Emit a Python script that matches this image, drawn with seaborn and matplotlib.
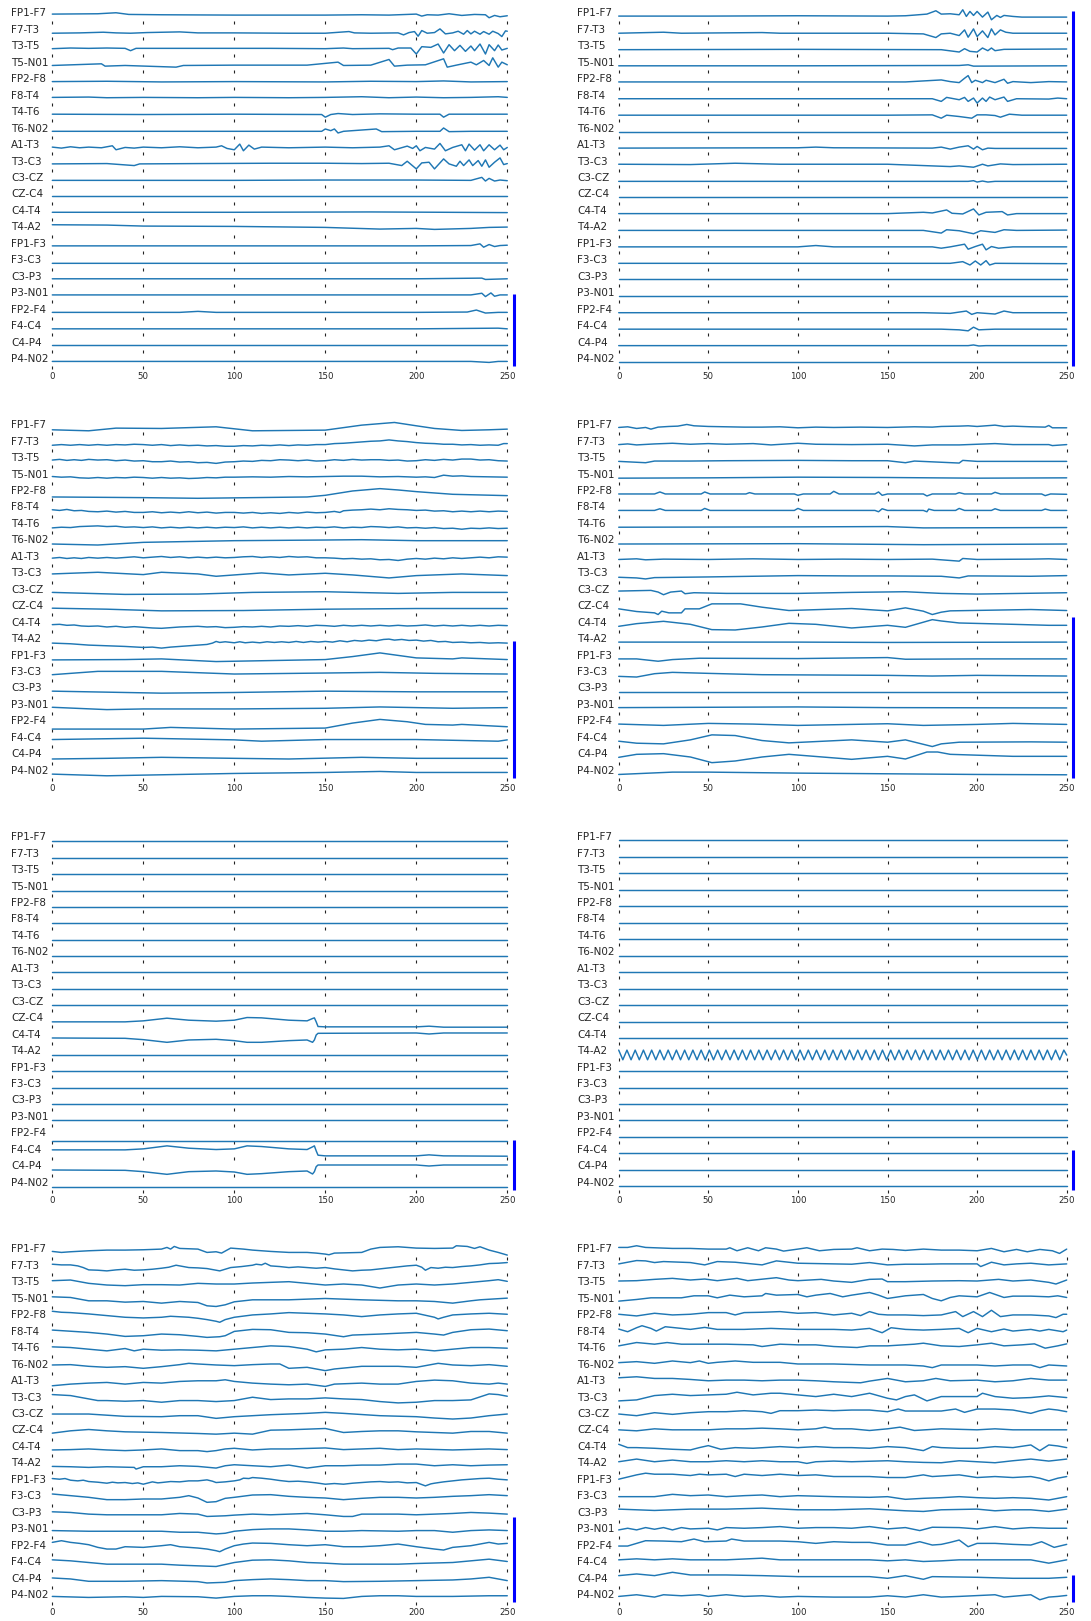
import seaborn as sns
import matplotlib.pyplot as plt

sns.set_style("white")
plt.rcParams["font.family"] = ["DejaVu Sans"]

# Bipolar montage channels, top to bottom
channels = ["FP1-F7", "F7-T3", "T3-T5", "T5-N01", "FP2-F8", "F8-T4", "T4-T6", "T6-N02",
            "A1-T3", "T3-C3", "C3-CZ", "CZ-C4", "C4-T4", "T4-A2", "FP1-F3", "F3-C3",
            "C3-P3", "P3-N01", "FP2-F4", "F4-C4", "C4-P4", "P4-N02"]
xticks = [0, 50, 100, 150, 200, 250]

# Each trace: (sample, amplitude) points
panel1 = [
    [(0, -2), (25, -1), (35, 2), (42, -3), (60, -4), (100, -5), (150, -5), (170, -4), (185, -5), (200, -2), (203, -8), (206, -4), (212, -5), (218, -1), (225, -6), (232, -3), (238, -4), (240, -13), (243, -6), (246, -10), (250, -7)],
    [(0, -10), (15, -9), (28, -7), (35, -9), (43, -10), (52, -8), (70, -6), (80, -9), (100, -9), (130, -10), (150, -10), (163, -5), (166, -9), (175, -10), (190, -9), (193, -15), (196, -8), (199, -5), (201, -19), (203, -2), (206, -10), (210, -8), (213, 3), (216, -12), (220, -9), (223, -4), (226, -13), (228, -2), (230, -12), (232, -4), (235, -13), (237, -5), (240, -13), (242, -4), (245, -11), (247, -20), (249, -3), (250, -4)],
    [(0, -7), (10, -5), (20, -6), (30, -5), (40, -6), (43, -13), (46, -6), (80, -6), (120, -6), (150, -7), (160, -5), (165, -7), (185, -6), (187, -10), (190, -5), (197, -5), (200, -23), (203, -1), (208, -3), (212, 7), (215, -20), (218, 5), (221, -13), (224, 3), (227, -15), (230, 1), (232, -13), (235, 7), (238, -23), (240, 5), (243, -13), (245, 4), (247, -11), (250, -6)],
    [(0, -8), (27, -3), (29, -10), (40, -8), (68, -13), (72, -8), (100, -7), (140, -7), (157, 2), (160, -8), (175, -7), (185, 10), (188, -10), (195, -7), (205, -6), (215, 12), (217, -13), (222, -7), (230, 2), (233, -6), (237, 7), (240, -8), (242, 15), (245, -13), (247, 2), (250, -6)],
    [(0, -7), (30, -6), (60, -8), (100, -7), (150, -8), (175, -6), (200, -7), (215, -5), (230, -8), (250, -7)],
    [(0, -5), (20, -4), (30, -6), (50, -5), (80, -6), (100, -5), (130, -6), (150, -5), (170, -3), (185, -6), (200, -4), (215, -6), (230, -5), (245, -3), (250, -5)],
    [(0, -6), (50, -7), (100, -6), (148, -7), (150, -15), (153, -7), (157, -4), (165, -7), (180, -5), (200, -6), (213, -6), (215, -15), (218, -6), (230, -6), (250, -6)],
    [(0, -8), (50, -8), (100, -8), (148, -8), (150, -1), (153, -6), (155, -1), (157, -13), (160, -8), (178, -1), (181, -9), (200, -8), (213, -8), (215, 2), (218, -9), (230, -8), (250, -8)],
    [(0, -6), (5, -9), (10, -5), (15, -8), (20, -6), (27, -8), (33, -2), (35, -14), (40, -7), (45, -9), (50, -6), (60, -8), (70, -5), (80, -8), (90, -6), (93, -2), (96, -10), (100, -14), (103, 3), (105, -17), (108, 0), (111, -12), (115, -6), (130, -8), (150, -6), (165, -8), (180, -6), (185, -2), (188, -14), (195, -3), (198, -10), (200, -2), (202, -17), (205, -7), (210, -12), (213, 5), (216, -17), (220, -7), (225, 1), (227, -17), (229, 3), (232, -15), (235, 1), (237, -17), (240, 1), (243, -14), (246, 0), (248, -14), (250, -7)],
    [(0, -7), (30, -6), (45, -12), (48, -7), (80, -6), (120, -5), (150, -5), (170, -6), (185, -5), (192, -12), (195, 1), (200, -22), (203, -4), (207, -2), (210, -22), (215, 8), (218, -7), (222, -14), (224, 1), (226, -12), (229, 5), (231, -12), (234, 3), (236, -14), (238, 5), (240, -17), (243, -2), (246, 11), (248, -9), (250, -6)],
    [(0, -7), (50, -7), (100, -7), (150, -6), (200, -6), (230, -7), (236, 2), (238, -9), (240, -1), (243, -9), (246, -6), (250, -8)],
    [(0, -5), (100, -5), (180, -5), (250, -5)],
    [(0, -4), (100, -4), (175, -3), (215, -4), (250, -5)],
    [(0, 8), (30, 7), (50, 4), (100, 3), (150, 0), (180, -5), (200, -3), (210, -6), (230, -3), (240, 0), (250, 1)],
    [(0, -6), (100, -6), (200, -6), (230, -5), (235, 0), (237, -10), (240, -2), (243, -8), (246, -5), (250, -4)],
    [(0, -9), (100, -9), (200, -8), (250, -8)],
    [(0, -6), (100, -6), (200, -6), (236, -4), (238, -8), (250, -6)],
    [(0, -5), (100, -5), (200, -5), (230, -5), (236, 0), (238, -10), (241, 1), (243, -9), (246, -5), (250, -5)],
    [(0, -8), (70, -8), (80, -5), (90, -8), (150, -8), (200, -8), (228, -7), (233, -1), (238, -10), (245, -8), (250, -8)],
    [(0, -8), (200, -8), (245, -6), (250, -8)],
    [(0, -7), (250, -7)],
    [(0, -7), (230, -7), (240, -10), (245, -7), (250, -7)],
]

panel2 = [
    [(0, -8), (50, -8), (100, -7), (150, -8), (160, -7), (165, -5), (172, -2), (177, 8), (180, -2), (185, -1), (190, -4), (192, 11), (194, -9), (196, 6), (198, -6), (200, 6), (203, -11), (206, 4), (208, -19), (211, -6), (213, -12), (215, -6), (220, -9), (225, -11), (250, -11)],
    [(0, -10), (25, -7), (35, -10), (80, -8), (90, -10), (150, -10), (170, -12), (177, -23), (180, -12), (185, -10), (190, -17), (193, 0), (195, -22), (198, 3), (200, -20), (203, -3), (206, -23), (208, 3), (210, -15), (213, 0), (216, -7), (220, -10), (250, -10)],
    [(0, -10), (100, -9), (180, -10), (190, -17), (193, -7), (196, -15), (200, -17), (203, -5), (206, -13), (208, -5), (210, -13), (215, -9), (250, -8)],
    [(0, -9), (100, -9), (190, -8), (195, -6), (198, -10), (250, -9)],
    [(0, -8), (100, -8), (160, -8), (170, -5), (180, -2), (185, -7), (190, -10), (193, 3), (195, 11), (197, -10), (199, -3), (203, -10), (205, -3), (210, -10), (215, 0), (217, -12), (220, -7), (230, -10), (240, -7), (250, -8)],
    [(0, -9), (150, -9), (175, -9), (180, -17), (183, -5), (190, -12), (193, -5), (195, -17), (198, -7), (200, -22), (203, -7), (205, -17), (207, -4), (210, -12), (215, -4), (217, -17), (222, -9), (240, -10), (245, -7), (250, -9)],
    [(0, -9), (150, -9), (175, -8), (180, -18), (183, -9), (190, -13), (197, -18), (200, -8), (205, -8), (210, -10), (213, -15), (218, -6), (225, -9), (250, -9)],
    [(0, -9), (250, -9)],
    [(0, -9), (100, -8), (110, -6), (120, -8), (175, -9), (180, -6), (185, -12), (190, -6), (195, -2), (198, -12), (200, -4), (203, -14), (206, -9), (210, -10), (250, -10)],
    [(0, -8), (40, -9), (65, -5), (90, -8), (150, -8), (170, -12), (185, -15), (190, -13), (198, -17), (203, -8), (206, -13), (213, -7), (220, -9), (250, -8)],
    [(0, -10), (195, -10), (198, -8), (200, -12), (203, -9), (206, -12), (210, -10), (250, -10)],
    [(0, -9), (250, -9)],
    [(0, -8), (150, -8), (170, -4), (175, -6), (183, 3), (186, -7), (192, -9), (198, 6), (201, -12), (205, -4), (214, -2), (217, -12), (222, -8), (250, -8)],
    [(0, -9), (170, -9), (180, -17), (183, -7), (190, -10), (198, -19), (202, -10), (210, -15), (215, -7), (222, -9), (250, -8)],
    [(0, -9), (100, -9), (110, -5), (120, -9), (175, -9), (180, -13), (185, -9), (193, -1), (195, -16), (199, -8), (203, -1), (205, -18), (208, -8), (212, -13), (220, -9), (250, -9)],
    [(0, -9), (185, -9), (192, -4), (196, -14), (199, -2), (202, -14), (205, -1), (207, -14), (210, -9), (250, -10)],
    [(0, -8), (250, -8)],
    [(0, -9), (250, -9)],
    [(0, -9), (170, -9), (185, -11), (194, -4), (197, -14), (200, -9), (210, -13), (215, -4), (220, -9), (250, -9)],
    [(0, -9), (180, -9), (190, -11), (195, -14), (198, -3), (201, -11), (205, -10), (210, -9), (250, -9)],
    [(0, -9), (195, -9), (198, -7), (201, -10), (205, -9), (250, -9)],
    [(0, -9), (250, -9)],
]

panel3 = [
    [(0, -14), (20, -17), (35, -9), (60, -10), (90, -5), (110, -17), (150, -15), (170, 0), (188, 8), (200, -2), (210, -10), (225, -16), (240, -14), (250, -12)],
    [(0, -11), (5, -9), (10, -11), (15, -9), (20, -11), (25, -9), (30, -11), (35, -9), (40, -10), (45, -8), (50, -9), (55, -11), (60, -9), (65, -12), (70, -10), (75, -12), (80, -11), (85, -13), (90, -12), (95, -14), (100, -14), (105, -12), (110, -13), (115, -11), (120, -12), (125, -10), (130, -12), (135, -10), (140, -11), (145, -9), (150, -9), (155, -6), (160, -5), (165, -3), (170, -1), (175, 1), (180, 2), (185, 5), (190, 2), (195, 0), (200, -3), (205, -5), (210, -6), (215, -8), (220, -8), (225, -10), (230, -9), (235, -11), (240, -10), (245, -11), (248, -6), (250, -6)],
    [(0, -6), (4, -4), (8, -7), (12, -5), (16, -7), (20, -4), (25, -6), (30, -5), (35, -8), (40, -6), (45, -9), (50, -8), (55, -11), (60, -11), (65, -9), (70, -12), (75, -11), (80, -14), (85, -13), (90, -16), (95, -12), (100, -11), (105, -9), (110, -10), (115, -7), (120, -8), (125, -5), (130, -6), (135, -8), (140, -6), (145, -9), (150, -8), (155, -5), (160, -7), (165, -4), (170, -6), (175, -5), (180, -5), (185, -7), (190, -6), (195, -9), (200, -8), (205, -5), (210, -7), (215, -4), (220, -6), (225, -3), (230, -3), (235, -6), (240, -5), (245, -8), (250, -9)],
    [(0, -6), (5, -8), (10, -7), (15, -10), (20, -11), (25, -9), (30, -11), (35, -9), (40, -10), (45, -8), (50, -9), (55, -11), (60, -9), (65, -11), (70, -10), (75, -12), (80, -11), (85, -9), (90, -10), (95, -8), (100, -8), (110, -7), (120, -8), (130, -6), (140, -7), (150, -6), (160, -5), (170, -5), (180, -7), (190, -6), (200, -8), (205, -7), (210, -9), (215, -2), (220, -5), (225, -4), (230, -6), (240, -7), (250, -8)],
    [(0, -18), (50, -20), (80, -22), (110, -20), (140, -18), (150, -13), (165, 0), (180, 7), (190, 3), (200, -2), (220, -10), (250, -14)],
    [(0, -7), (4, -9), (8, -6), (12, -10), (16, -9), (20, -12), (25, -13), (30, -11), (35, -14), (40, -12), (45, -15), (50, -15), (55, -13), (60, -16), (65, -14), (70, -16), (75, -13), (80, -16), (85, -14), (90, -17), (95, -15), (100, -15), (105, -17), (110, -15), (115, -18), (120, -16), (125, -18), (130, -15), (135, -17), (140, -14), (145, -16), (150, -15), (155, -12), (158, -15), (160, -10), (165, -8), (170, -7), (175, -5), (180, -7), (185, -4), (190, -6), (195, -7), (200, -9), (205, -8), (210, -11), (215, -10), (220, -13), (225, -11), (230, -13), (235, -11), (240, -13), (245, -11), (250, -12)],
    [(0, -12), (5, -10), (10, -11), (15, -8), (20, -7), (25, -6), (30, -8), (35, -7), (40, -10), (45, -9), (50, -11), (55, -9), (60, -12), (65, -10), (70, -12), (75, -10), (80, -12), (85, -10), (90, -12), (95, -10), (100, -11), (105, -9), (110, -12), (115, -10), (120, -12), (125, -10), (130, -12), (135, -10), (140, -12), (145, -10), (150, -11), (155, -9), (160, -12), (165, -10), (170, -11), (175, -8), (180, -9), (185, -11), (190, -9), (195, -12), (200, -11), (205, -13), (210, -11), (215, -14), (220, -13), (225, -16), (230, -13), (235, -14), (240, -12), (245, -14), (250, -13)],
    [(0, -11), (25, -14), (50, -6), (100, -1), (150, 1), (170, 2), (200, -1), (250, -1)],
    [(0, -4), (4, -2), (8, -5), (12, -3), (16, -5), (20, -2), (25, -4), (30, -2), (35, -4), (40, -2), (45, 0), (50, -3), (55, -1), (60, 1), (65, -2), (70, 0), (75, -3), (80, -1), (85, -3), (90, -1), (95, -3), (100, -2), (105, 0), (110, 1), (115, -2), (120, 0), (125, -2), (130, 1), (135, -1), (140, 0), (145, -3), (150, -3), (155, -4), (160, -6), (165, -5), (170, -7), (175, -6), (180, -9), (185, -8), (190, -11), (195, -7), (200, -5), (205, -7), (210, -4), (215, -6), (220, -3), (225, -5), (230, -3), (235, -1), (240, -3), (245, 0), (250, -1)],
    [(0, -2), (25, 3), (50, -4), (60, 3), (80, -2), (90, -9), (100, -5), (115, 1), (130, -5), (150, 0), (165, -5), (185, -14), (200, -7), (225, -2), (250, -7)],
    [(0, -8), (40, -14), (80, -13), (110, -8), (150, -6), (190, -11), (220, -8), (250, -8)],
    [(0, -6), (30, -9), (60, -14), (105, -13), (150, -9), (200, -7), (250, -7)],
    [(0, -6), (4, -5), (8, -8), (12, -7), (16, -10), (20, -11), (25, -10), (30, -13), (35, -11), (40, -14), (45, -12), (50, -14), (55, -16), (60, -17), (65, -15), (70, -13), (75, -12), (80, -11), (85, -13), (90, -12), (95, -15), (100, -14), (105, -12), (110, -13), (115, -11), (120, -13), (125, -10), (130, -11), (135, -9), (140, -11), (145, -8), (150, -9), (155, -11), (160, -8), (165, -10), (170, -8), (175, -10), (180, -8), (185, -10), (190, -8), (195, -10), (200, -9), (205, -7), (210, -10), (215, -8), (220, -10), (225, -8), (230, -10), (235, -8), (240, -10), (245, -8), (250, -9)],
    [(0, -12), (10, -14), (20, -18), (30, -20), (40, -22), (50, -25), (55, -24), (60, -27), (65, -24), (70, -22), (75, -20), (80, -18), (85, -16), (88, -12), (90, -7), (92, -10), (95, -8), (100, -11), (103, -8), (106, -11), (110, -9), (114, -11), (118, -8), (122, -10), (126, -8), (130, -10), (134, -7), (138, -10), (142, -7), (146, -9), (150, -7), (154, -9), (158, -5), (162, -8), (166, -4), (170, -6), (174, -3), (178, -5), (182, -1), (185, 0), (188, -3), (192, -1), (196, -4), (200, -3), (204, -6), (208, -4), (212, -8), (216, -7), (220, -10), (225, -9), (230, -11), (235, -10), (240, -12), (245, -11), (250, -12)],
    [(0, -13), (40, -12), (60, -10), (90, -18), (120, -15), (150, -12), (165, -3), (180, 8), (200, -7), (220, -10), (225, -7), (250, -12)],
    [(0, -8), (25, 2), (60, 2), (100, -6), (150, -3), (180, -1), (210, -4), (250, -6)],
    [(0, -8), (60, -14), (100, -12), (150, -8), (200, -10), (250, -10)],
    [(0, -7), (30, -14), (50, -12), (100, -12), (150, -10), (180, -6), (220, -10), (250, -8)],
    [(0, -23), (50, -23), (65, -18), (100, -23), (150, -20), (165, -5), (180, 6), (195, -1), (205, -9), (220, -11), (225, -9), (250, -16)],
    [(0, -5), (50, -1), (100, -6), (115, -10), (150, -5), (200, -5), (245, -10), (250, -6)],
    [(0, -14), (30, -12), (60, -9), (100, -12), (130, -14), (170, -9), (200, -12), (250, -12)],
    [(0, -10), (30, -15), (60, -12), (100, -8), (150, -5), (180, -2), (200, -5), (250, -5)],
]

panel4 = [
    [(0, -7), (5, -5), (10, -10), (15, -7), (18, -12), (22, -6), (28, -4), (33, -3), (38, 2), (42, -2), (50, -4), (60, -5), (70, -6), (80, -6), (90, -5), (100, -8), (110, -6), (120, -7), (135, -6), (150, -7), (165, -5), (175, -6), (180, -4), (190, -3), (195, -2), (200, -4), (210, 0), (215, -4), (220, -3), (230, -5), (238, -6), (240, -1), (242, -8), (250, -8)],
    [(0, -9), (5, -7), (10, -10), (20, -7), (30, -5), (40, -8), (50, -6), (60, -8), (75, -6), (85, -10), (100, -5), (110, -8), (130, -9), (150, -8), (165, -13), (175, -10), (190, -10), (210, -6), (220, -9), (240, -9), (242, -12), (250, -9)],
    [(0, -10), (15, -14), (20, -9), (40, -9), (60, -8), (100, -7), (130, -8), (150, -8), (160, -14), (165, -9), (190, -15), (192, -7), (200, -10), (250, -10)],
    [(0, -11), (50, -10), (100, -8), (150, -9), (200, -11), (250, -10)],
    [(0, -9), (20, -9), (23, -3), (26, -9), (46, -9), (48, -3), (51, -9), (71, -9), (73, -5), (76, -9), (98, -9), (100, -13), (103, -9), (118, -9), (120, -1), (123, -9), (143, -9), (145, -3), (147, -13), (150, -9), (170, -9), (172, -15), (175, -9), (188, -9), (190, -5), (193, -9), (208, -9), (210, -4), (213, -9), (236, -9), (238, -14), (241, -9), (250, -10)],
    [(0, -9), (20, -9), (23, -4), (26, -9), (46, -9), (48, -3), (51, -9), (98, -9), (100, -3), (103, -9), (143, -9), (145, -13), (147, -4), (150, -9), (170, -9), (172, -13), (173, -5), (176, -9), (188, -9), (190, -3), (193, -9), (208, -9), (210, -4), (213, -9), (236, -9), (238, -5), (241, -9), (250, -9)],
    [(0, -10), (100, -9), (150, -8), (170, -12), (250, -11)],
    [(0, -11), (100, -10), (170, -13), (250, -11)],
    [(0, -8), (10, -6), (15, -9), (25, -7), (50, -8), (75, -6), (100, -8), (125, -7), (150, -8), (175, -7), (190, -13), (192, -5), (200, -8), (230, -7), (240, -6), (250, -8)],
    [(0, -12), (10, -14), (15, -17), (20, -13), (50, -11), (75, -9), (100, -7), (130, -8), (150, -8), (180, -9), (190, -14), (195, -8), (200, -8), (230, -9), (250, -7)],
    [(0, -4), (18, -2), (22, -7), (25, -15), (29, -7), (35, -4), (37, -12), (42, -9), (60, -11), (100, -11), (130, -8), (160, -6), (180, -11), (200, -13), (250, -9)],
    [(0, -8), (10, -16), (20, -20), (22, -25), (24, -15), (28, -20), (35, -20), (37, -8), (45, -8), (52, 7), (68, 7), (80, -3), (95, -13), (130, -7), (150, -14), (160, -5), (170, -15), (175, -25), (180, -18), (185, -14), (230, -10), (250, -13)],
    [(0, -11), (10, -3), (25, 4), (40, -5), (52, -21), (65, -22), (80, -13), (95, -2), (110, -5), (130, -16), (150, -8), (160, -14), (175, 9), (180, 5), (190, -1), (220, -5), (240, -8), (250, -8)],
    [(0, -9), (100, -9), (150, -10), (250, -9)],
    [(0, -10), (10, -10), (22, -17), (30, -12), (45, -8), (100, -9), (150, -6), (160, -11), (200, -10), (250, -10)],
    [(0, -13), (10, -15), (20, -5), (30, -1), (50, -4), (80, -8), (150, -10), (175, -12), (200, -10), (250, -12)],
    [(0, -10), (100, -10), (200, -10), (250, -10)],
    [(0, -8), (100, -6), (150, -8), (250, -9)],
    [(0, -8), (25, -12), (50, -6), (75, -8), (100, -12), (150, -7), (170, -12), (200, -9), (220, -6), (250, -9)],
    [(0, -10), (10, -16), (25, -18), (40, -6), (52, 9), (65, 7), (80, -8), (95, -15), (130, -6), (150, -13), (160, -6), (175, -26), (180, -18), (190, -13), (230, -12), (250, -13)],
    [(0, -9), (10, 0), (25, 2), (40, -8), (52, -25), (65, -20), (80, -8), (95, 0), (130, -15), (150, -6), (160, -14), (172, 7), (178, 7), (185, 0), (220, -6), (250, -6)],
    [(0, -11), (30, -4), (50, -4), (100, -7), (150, -9), (200, -11), (250, -12)],
]

panel5 = [
    [(0, -12), (250, -12)],
    [(0, -12), (250, -12)],
    [(0, -12), (250, -12)],
    [(0, -12), (250, -12)],
    [(0, -12), (250, -12)],
    [(0, -12), (250, -12)],
    [(0, -11), (250, -11)],
    [(0, -12), (250, -12)],
    [(0, -11), (250, -11)],
    [(0, -12), (250, -12)],
    [(0, -11), (250, -11)],
    [(0, -11), (40, -11), (50, -8), (63, 0), (75, -6), (90, -9), (100, -6), (107, 2), (115, 1), (130, -6), (140, -8), (143, -1), (144, 1), (145, -11), (146, -25), (150, -26), (200, -26), (207, -24), (215, -27), (250, -27)],
    [(0, -10), (40, -11), (50, -15), (63, -23), (75, -16), (90, -14), (100, -18), (107, -23), (115, -23), (130, -18), (140, -16), (143, -23), (144, -16), (145, -1), (146, 4), (200, 5), (207, 2), (215, 5), (250, 5)],
    [(0, -11), (250, -11)],
    [(0, -11), (250, -11)],
    [(0, -11), (250, -11)],
    [(0, -12), (250, -12)],
    [(0, -10), (250, -10)],
    [(0, -23), (250, -23)],
    [(0, 0), (40, 0), (50, 3), (63, 12), (75, 5), (90, 1), (100, 3), (107, 12), (115, 10), (130, 3), (140, 1), (143, 9), (144, 12), (145, -3), (146, -16), (150, -18), (200, -18), (207, -15), (215, -18), (250, -19)],
    [(0, -11), (40, -12), (50, -16), (63, -24), (75, -16), (90, -14), (100, -17), (107, -24), (115, -22), (130, -16), (140, -14), (143, -23), (144, -16), (145, -1), (146, 4), (200, 4), (207, 1), (215, 4), (250, 4)],
    [(0, -12), (250, -12)],
]

panel6 = [
    [(0, -10), (250, -10)],
    [(0, -10), (250, -10)],
    [(0, -10), (250, -10)],
    [(0, -11), (250, -11)],
    [(0, -10), (250, -10)],
    [(0, -10), (250, -10)],
    [(0, -10), (250, -10)],
    [(0, -10), (250, -10)],
    [(0, -11), (250, -11)],
    [(0, -11), (250, -11)],
    [(0, -10), (250, -10)],
    [(0, -10), (250, -10)],
    [(0, -10), (250, -10)],
    [(0, 3), (2.3, -26), (4.6, 3), (6.9, -26), (9.2, 3), (11.5, -26), (13.8, 3), (16.1, -26), (18.4, 3), (20.7, -26), (23, 3), (25.3, -26), (27.6, 3), (29.9, -26), (32.2, 3), (34.5, -26), (36.8, 3), (39.1, -26), (41.4, 3), (43.7, -26), (46, 3), (48.3, -26), (50.6, 3), (52.9, -26), (55.2, 3), (57.5, -26), (59.8, 3), (62.1, -26), (64.4, 3), (66.7, -26), (69, 3), (71.3, -26), (73.6, 3), (75.9, -26), (78.2, 3), (80.5, -26), (82.8, 3), (85.1, -26), (87.4, 3), (89.7, -26), (92, 3), (94.3, -26), (96.6, 3), (98.9, -26), (101.2, 3), (103.5, -26), (105.8, 3), (108.1, -26), (110.4, 3), (112.7, -26), (115, 3), (117.3, -26), (119.6, 3), (121.9, -26), (124.2, 3), (126.5, -26), (128.8, 3), (131.1, -26), (133.4, 3), (135.7, -26), (138, 3), (140.3, -26), (142.6, 3), (144.9, -26), (147.2, 3), (149.5, -26), (151.8, 3), (154.1, -26), (156.4, 3), (158.7, -26), (161, 3), (163.3, -26), (165.6, 3), (167.9, -26), (170.2, 3), (172.5, -26), (174.8, 3), (177.1, -26), (179.4, 3), (181.7, -26), (184, 3), (186.3, -26), (188.6, 3), (190.9, -26), (193.2, 3), (195.5, -26), (197.8, 3), (200.1, -26), (202.4, 3), (204.7, -26), (207, 3), (209.3, -26), (211.6, 3), (213.9, -26), (216.2, 3), (218.5, -26), (220.8, 3), (223.1, -26), (225.4, 3), (227.7, -26), (230, 3), (232.3, -26), (234.6, 3), (236.9, -26), (239.2, 3), (241.5, -26), (243.8, 3), (246.1, -26), (248.4, 3), (250, -12)],
    [(0, -10), (250, -10)],
    [(0, -11), (250, -11)],
    [(0, -11), (250, -11)],
    [(0, -10), (250, -10)],
    [(0, -11), (250, -11)],
    [(0, -10), (250, -10)],
    [(0, -10), (250, -10)],
    [(0, -10), (250, -10)],
]

panel7 = [
    [(0, -6), (5, -9), (10, -7), (20, -4), (30, -2), (40, -2), (50, -1), (60, 1), (63, 6), (65, 1), (67, 9), (70, 3), (80, 1), (85, -9), (90, -7), (93, -11), (98, 4), (105, 1), (110, -2), (120, -6), (130, -9), (140, -9), (145, -11), (150, -14), (152, -16), (155, -11), (170, -9), (175, 1), (180, 6), (190, 8), (200, 4), (210, 3), (220, 4), (222, 11), (228, 9), (232, 3), (235, 8), (240, -2), (245, -9), (250, -17)],
    [(0, 5), (5, 3), (10, 3), (14, 0), (17, -5), (20, -12), (25, -13), (30, -15), (35, -12), (40, -10), (45, -13), (50, -12), (55, -10), (60, -7), (64, -4), (68, 2), (72, -2), (75, -5), (80, -6), (85, -8), (88, -11), (92, -15), (95, -10), (98, -5), (104, -2), (110, 2), (112, 5), (115, 3), (117, 8), (120, 0), (125, -2), (130, -5), (135, -3), (140, -5), (145, -7), (150, -5), (155, -9), (160, -12), (165, -15), (170, -13), (175, -12), (180, -9), (185, -6), (190, -3), (195, 0), (200, 2), (203, -4), (205, -13), (208, -5), (212, -7), (216, -4), (220, -5), (225, -2), (230, 0), (235, 3), (240, 7), (245, 8), (250, 10)],
    [(0, 5), (10, 7), (20, -3), (30, -8), (40, -10), (50, -7), (60, -7), (70, -8), (80, -3), (90, -5), (100, -5), (110, -2), (120, 0), (130, 2), (140, -3), (150, -8), (160, -5), (170, -8), (180, -17), (190, -8), (200, -5), (210, -8), (220, -5), (230, 0), (240, 5), (245, 8), (250, 3)],
    [(0, 6), (10, 4), (15, -1), (20, -6), (30, -6), (40, -10), (50, -8), (60, -13), (70, -8), (80, -11), (85, -21), (90, -23), (95, -18), (100, -9), (110, -3), (130, -3), (150, 1), (170, -3), (190, -6), (200, -6), (210, -8), (220, -13), (230, -6), (235, -3), (250, 2)],
    [(0, 12), (5, 9), (10, 8), (20, 4), (30, -1), (40, -6), (50, -8), (60, -6), (65, -3), (75, -6), (80, -9), (85, -13), (90, -18), (92, -21), (95, -13), (100, -6), (110, 1), (120, 4), (130, 8), (150, 4), (160, 1), (170, -4), (180, 1), (190, 4), (200, 6), (210, -6), (212, -11), (215, -6), (220, 1), (230, 4), (240, 6), (250, 3)],
    [(0, 5), (20, -2), (30, -7), (40, -14), (50, -12), (60, -7), (70, -9), (80, -14), (85, -17), (92, -15), (95, -12), (100, 1), (110, 7), (120, 6), (130, -2), (140, -3), (150, -7), (160, -15), (165, -10), (180, -7), (200, -2), (210, -7), (215, -10), (220, -2), (230, 6), (240, 8), (250, 3)],
    [(0, 4), (10, 2), (20, -3), (30, -8), (40, -1), (45, -8), (50, -3), (60, -6), (70, -5), (80, -6), (90, -8), (100, -3), (110, 2), (120, 7), (130, 5), (140, -3), (145, -11), (150, -5), (160, -3), (170, 2), (180, -3), (190, -5), (200, -3), (210, -8), (220, -3), (230, 2), (240, 2), (250, 0)],
    [(0, -1), (10, 0), (20, -5), (30, -8), (40, -6), (50, -11), (60, -6), (70, 0), (75, 4), (80, 2), (90, -1), (100, -3), (110, 0), (120, 2), (125, 2), (130, -11), (140, -8), (150, -18), (155, -13), (170, -5), (190, -5), (200, -8), (212, 4), (220, -1), (230, -3), (240, 0), (250, -5)],
    [(0, -14), (10, -9), (20, -6), (30, -4), (40, -9), (50, -4), (60, -6), (70, -1), (80, 1), (90, 1), (95, 4), (100, -1), (110, -6), (120, -9), (130, -11), (140, -9), (150, -16), (155, -9), (170, -6), (180, -9), (190, -9), (200, -1), (210, 3), (220, 1), (230, -6), (240, -9), (245, -6), (250, -9)],
    [(0, 9), (10, 6), (20, -4), (25, -9), (30, -9), (40, -11), (50, -9), (60, -14), (70, -9), (80, -9), (90, -12), (100, -9), (110, 1), (120, -6), (130, -4), (140, -4), (150, -1), (160, -4), (170, -6), (180, -12), (190, -16), (200, -14), (210, -9), (220, -9), (230, -7), (240, 11), (245, 9), (250, 4)],
    [(0, 0), (20, 0), (40, -7), (60, -8), (70, -5), (80, -5), (90, -13), (100, -8), (120, -2), (140, 2), (150, 5), (160, 2), (180, -5), (200, -8), (210, -12), (220, -15), (230, -12), (240, -5), (250, 0)],
    [(0, -8), (10, -1), (20, 3), (30, -1), (40, -4), (60, -6), (80, -9), (90, -11), (100, -8), (110, -11), (120, 1), (130, 2), (140, 4), (150, 6), (160, -6), (170, -3), (180, -1), (190, -1), (200, -4), (210, -6), (220, -8), (230, -3), (240, -3), (250, -8)],
    [(0, -9), (10, -8), (20, -6), (30, -9), (40, -11), (50, -9), (60, -6), (70, -11), (80, -11), (85, -14), (90, -11), (95, -6), (100, -4), (110, -9), (120, -6), (130, -6), (150, -3), (160, -8), (170, -6), (180, -4), (190, -8), (200, -6), (220, -9), (240, -6), (250, -8)],
    [(0, -9), (10, -10), (20, -12), (30, -10), (45, -12), (46, -17), (50, -10), (60, -10), (70, -7), (80, -9), (90, -14), (95, -7), (100, -4), (110, -7), (120, -10), (130, -5), (140, -14), (150, -7), (160, -7), (170, -5), (180, -5), (190, -2), (200, -2), (210, -7), (220, -4), (230, -7), (240, -5), (250, -4)],
    [(0, 4), (4, 2), (7, 4), (10, -1), (14, -3), (17, -1), (20, -5), (25, -7), (30, -10), (33, -7), (36, -9), (40, -8), (44, -11), (47, -9), (50, -13), (55, -6), (58, -9), (60, -8), (65, -5), (70, -6), (75, -3), (80, -3), (85, 0), (88, -4), (90, -8), (95, -6), (100, -3), (103, 0), (105, 5), (108, 4), (110, 7), (115, 5), (120, 2), (125, -2), (130, -5), (135, -4), (140, -6), (145, -9), (150, -13), (155, -11), (160, -13), (165, -10), (170, -8), (175, -6), (180, -5), (185, -7), (190, -6), (195, -9), (200, -8), (203, -14), (205, -18), (208, -12), (210, -10), (215, -6), (220, -3), (225, 0), (230, 2), (235, 4), (240, 5), (245, 2), (250, 0)],
    [(0, 7), (10, 2), (20, -3), (30, -10), (40, -10), (50, -8), (60, -8), (70, -3), (75, 2), (80, -5), (85, -18), (90, -16), (95, -6), (100, -3), (110, 4), (120, 5), (130, 0), (140, -3), (150, -5), (160, -10), (170, -6), (180, -3), (190, -3), (200, -5), (210, -3), (220, 0), (230, 2), (240, 5), (250, 2)],
    [(0, 3), (10, 1), (20, -4), (30, -6), (50, -6), (60, -6), (70, -2), (80, -4), (85, -11), (95, -9), (100, -7), (110, -4), (120, -6), (130, -4), (140, -2), (150, -6), (160, -11), (165, -11), (170, -4), (190, -4), (200, -6), (220, -2), (230, 1), (240, -1), (250, -4)],
    [(0, -4), (20, -6), (40, -6), (60, -6), (70, -9), (80, -9), (90, -14), (95, -12), (100, -6), (110, -1), (120, 1), (130, 1), (140, -2), (150, -6), (160, -6), (170, -4), (190, -6), (200, -4), (210, -4), (220, -9), (230, -4), (240, -2), (250, -4)],
    [(0, 10), (5, 15), (10, 10), (15, 7), (20, 3), (25, -5), (30, -10), (35, -10), (40, -3), (50, -5), (60, 0), (65, 3), (70, -3), (80, -7), (85, -10), (90, -15), (92, -18), (95, -10), (100, 0), (105, 5), (110, 8), (120, 7), (130, 3), (140, 0), (150, 3), (160, -3), (170, -3), (180, 0), (190, 5), (200, -3), (210, -10), (215, -13), (220, -5), (230, 0), (240, 10), (245, 5), (250, 7)],
    [(0, 7), (10, 4), (20, -1), (30, -6), (50, -6), (60, -6), (70, -9), (80, -11), (90, -13), (100, -1), (110, 6), (120, 7), (130, 4), (140, -1), (150, -3), (160, -6), (170, -6), (190, -6), (200, -4), (220, -1), (230, 4), (240, 9), (250, 2)],
    [(0, 2), (10, -1), (20, -8), (40, -8), (60, -6), (80, -9), (85, -13), (95, -11), (100, -6), (110, -3), (120, -1), (130, -3), (140, -6), (150, -6), (160, -9), (180, -8), (200, -6), (220, -4), (230, -1), (240, 4), (250, -6)],
    [(0, -4), (20, -7), (40, -5), (50, -7), (60, -4), (80, -5), (90, -9), (100, -4), (110, -2), (120, -2), (130, -4), (140, -7), (150, -9), (160, -10), (170, -4), (180, -2), (190, -2), (200, -4), (220, -4), (240, -2), (250, -2)],
]

panel8 = [
    [(0, 6), (5, 6), (10, 11), (15, 6), (20, 5), (30, 3), (40, 3), (50, 1), (60, 1), (62, 5), (66, -4), (72, 5), (78, -4), (82, 5), (88, 1), (92, -5), (100, 1), (105, 5), (112, -4), (120, 0), (130, 1), (133, 5), (140, -4), (147, 1), (153, 0), (160, -3), (170, 1), (180, -2), (190, -2), (200, -4), (208, 3), (215, -7), (222, 0), (228, -7), (235, 0), (242, -4), (246, -12), (250, 1)],
    [(0, 6), (10, 16), (15, 15), (20, 10), (25, 13), (40, 10), (48, 3), (55, 13), (65, 11), (80, 3), (88, 15), (100, 8), (120, 6), (130, 5), (140, 10), (150, 3), (160, 5), (170, 5), (180, 6), (190, 6), (200, 6), (202, -2), (208, 11), (215, 3), (222, 6), (230, 8), (240, 3), (250, 6)],
    [(0, 4), (10, 5), (20, 9), (30, 12), (40, 7), (48, 10), (55, 5), (66, 12), (72, 5), (88, 14), (95, 7), (100, 5), (113, 9), (120, 4), (130, 0), (140, 9), (147, 10), (150, 2), (160, 2), (175, 4), (190, 5), (200, 4), (212, 9), (220, 4), (230, 7), (240, 0), (244, -5), (250, 7)],
    [(0, -7), (10, -2), (18, 3), (25, 3), (35, 3), (42, 9), (50, 9), (55, 3), (62, 11), (70, 6), (80, 9), (82, 16), (88, 11), (100, 13), (105, 6), (110, 11), (118, 16), (125, 6), (130, 11), (140, 19), (145, 11), (150, 1), (160, 9), (170, 13), (175, 1), (180, -6), (185, 4), (190, 9), (200, 6), (207, 19), (215, 4), (220, 8), (230, 8), (240, 6), (245, 9), (250, 4)],
    [(0, 3), (10, -2), (20, 6), (30, 1), (40, 3), (50, 8), (60, 8), (65, 1), (70, 8), (80, 9), (90, 11), (100, 6), (110, 8), (120, 1), (130, 6), (135, -1), (140, 11), (145, 3), (150, 1), (160, 1), (170, -1), (180, 1), (188, 11), (192, -4), (198, 11), (203, -4), (208, 15), (213, -4), (220, 1), (230, 1), (240, -2), (244, -7), (248, 3), (250, 3)],
    [(0, 8), (5, 0), (10, 12), (13, 18), (18, 10), (21, 2), (26, 15), (35, 10), (40, 7), (48, 13), (55, 7), (70, 7), (85, 10), (100, 7), (120, 7), (130, 5), (140, 10), (147, -3), (152, 12), (160, 7), (170, 5), (180, 7), (190, 10), (195, -3), (200, 10), (208, 0), (215, 8), (220, 2), (230, 7), (235, 2), (240, 7), (248, 0), (250, 5)],
    [(0, 7), (10, 17), (20, 12), (27, 17), (35, 12), (45, 12), (60, 12), (75, 10), (80, 5), (90, 12), (100, 10), (110, 10), (120, 5), (133, 2), (140, 7), (150, 7), (165, 12), (170, 15), (180, 7), (190, 5), (200, 10), (208, 15), (215, 7), (225, 10), (232, 13), (238, 0), (245, 7), (250, 13)],
    [(0, 6), (10, 9), (20, 4), (30, 11), (40, 6), (45, 11), (50, 4), (55, 7), (65, 11), (75, 7), (90, 7), (100, 2), (120, 2), (140, -1), (160, -1), (170, -4), (175, -9), (180, -1), (190, -1), (200, -1), (210, -4), (220, -1), (230, -1), (235, -9), (240, -1), (250, -4)],
    [(0, 10), (10, 13), (20, 8), (30, 8), (40, 5), (50, 1), (60, 3), (70, 3), (80, 1), (90, 3), (100, 3), (110, 1), (120, -2), (135, -5), (140, 0), (150, 8), (160, -2), (170, 1), (177, 8), (185, 1), (200, 3), (210, -2), (220, 1), (230, 8), (240, 3), (250, 3)],
    [(0, -10), (10, -7), (20, 6), (30, 10), (40, 6), (50, 8), (60, 10), (66, 16), (75, 8), (85, 13), (90, 13), (100, 8), (110, 3), (120, 10), (130, 3), (140, 13), (150, -2), (155, -7), (160, 3), (165, 8), (172, -10), (180, 3), (190, 3), (200, 3), (203, 13), (210, 3), (220, -2), (230, 0), (240, 5), (250, 0)],
    [(0, 0), (10, -5), (20, 4), (30, -1), (40, 4), (50, 7), (60, 7), (70, 10), (80, 7), (85, 2), (90, 10), (100, 10), (110, 12), (120, 10), (130, 12), (140, 12), (150, 7), (156, 15), (160, 9), (170, 9), (180, 9), (188, 15), (193, 5), (200, 15), (210, 15), (220, 12), (230, 2), (235, 10), (240, 15), (245, 12), (250, 7)],
    [(0, 2), (10, -1), (20, 5), (30, 2), (40, 2), (50, 2), (60, 5), (70, 5), (80, 7), (90, 5), (100, 2), (110, 5), (115, 10), (120, 5), (130, 5), (140, 0), (150, 5), (157, 10), (165, 0), (180, 5), (200, 2), (210, 5), (220, 2), (240, 2), (250, 2)],
    [(0, 8), (5, -2), (10, -2), (20, -4), (30, -7), (40, -9), (45, -2), (50, 4), (57, -7), (65, -2), (75, -4), (90, 1), (100, -2), (110, 1), (120, -2), (130, -2), (140, -4), (150, 1), (160, -2), (170, -11), (175, 1), (180, -2), (190, -4), (200, -4), (210, 1), (220, -2), (230, 6), (235, -11), (240, 6), (245, 3), (250, -2)],
    [(0, 5), (10, 13), (20, 5), (30, 10), (40, 5), (50, 5), (60, 8), (70, 5), (80, 8), (90, 5), (100, 5), (105, 0), (110, 5), (120, 7), (130, 5), (150, 8), (160, 5), (170, 3), (180, 2), (190, 8), (200, 5), (210, 2), (220, 8), (230, 13), (240, 7), (250, 13)],
    [(0, 2), (10, 15), (15, 20), (20, 17), (30, 17), (40, 13), (45, 17), (50, 15), (60, 17), (65, 10), (70, 17), (80, 13), (90, 17), (100, 13), (110, 15), (120, 10), (130, 10), (140, 10), (150, 7), (160, 7), (170, 15), (175, 10), (190, 15), (200, 7), (210, 10), (220, 7), (230, 10), (235, 5), (240, -3), (245, 5), (250, 10)],
    [(0, -1), (20, -1), (30, 6), (40, 2), (50, 4), (60, -1), (70, 2), (80, 4), (90, -1), (100, 2), (120, -1), (140, -3), (150, -1), (160, -9), (170, -6), (180, -4), (190, -1), (200, -4), (210, -6), (220, -4), (230, -6), (240, -11), (245, -6), (250, -1)],
    [(0, 11), (20, 7), (40, 11), (60, 11), (80, 14), (100, 9), (120, 9), (140, 12), (160, 6), (170, 4), (180, 9), (200, 11), (210, 6), (220, 9), (230, 9), (240, 4), (250, 11)],
    [(0, -2), (5, 3), (10, -2), (15, 5), (20, 0), (25, 5), (30, -2), (35, 5), (40, 1), (50, 3), (55, -2), (60, 5), (70, 3), (80, 5), (90, 8), (100, 3), (110, 5), (120, 5), (130, 3), (140, 8), (150, 1), (160, 5), (168, -4), (175, 6), (190, 5), (200, 1), (210, 8), (220, 1), (230, 5), (240, 3), (250, 3)],
    [(0, -1), (5, -1), (10, 7), (15, 15), (25, 14), (35, 12), (42, 20), (48, 12), (60, 14), (63, 20), (70, 14), (80, 14), (90, 14), (100, 12), (110, 7), (120, 12), (130, 10), (140, 10), (150, 2), (160, 2), (168, 12), (175, 2), (180, 4), (185, 10), (190, 17), (195, -3), (200, 7), (210, 7), (220, 4), (230, 2), (236, 12), (243, -5), (250, 4)],
    [(0, 7), (10, 10), (20, 7), (30, 10), (40, 7), (60, 7), (80, 12), (90, 7), (100, 7), (120, 7), (140, 7), (150, 4), (160, 7), (170, 2), (180, 4), (190, 7), (200, 7), (220, 7), (230, 7), (240, -3), (250, 7)],
    [(0, 9), (10, 14), (20, 9), (30, 19), (40, 11), (50, 11), (60, 11), (80, 9), (100, 6), (120, 6), (140, 6), (150, 1), (160, 9), (170, -2), (175, 6), (200, 4), (220, 1), (240, 1), (250, 4)],
    [(0, -4), (10, 1), (20, -6), (25, 1), (35, -2), (45, 1), (50, -4), (60, 1), (70, -4), (80, -2), (90, -6), (100, -4), (120, -6), (140, -6), (150, -2), (160, -6), (170, 1), (180, -6), (190, -4), (210, 1), (215, -6), (230, 1), (235, -14), (240, -6), (245, -4), (250, -1)],
]

# calibration bar height per panel, same amplitude units as the traces
scale_bar = [216, 1065, 411, 483, 150, 120, 255, 81]

panels = [panel1, panel2, panel3, panel4, panel5, panel6, panel7, panel8]

W, H = 1091, 1621
fig = plt.figure(figsize=(W / 100, H / 100), dpi=100)

col_x = [(52.3, 507.3), (618.7, 1066.7)]
row_top = [4.2, 415.9, 827.9, 1240.2]
ch_h = 16.46
ylo, yhi = -21.7, 27.7
line_color = "#1f77b4"

for p, traces in enumerate(panels):
    r, c = divmod(p, 2)
    x0, x1 = col_x[c]
    for i, (name, pts) in enumerate(zip(channels, traces)):
        top = row_top[r] + i * ch_h
        ax = fig.add_axes([x0 / W, 1 - (top + ch_h) / H, (x1 - x0) / W, ch_h / H])
        ax.patch.set_visible(False)
        xs = [pt[0] for pt in pts]
        vs = [pt[1] for pt in pts]
        sns.lineplot(x=xs, y=vs, ax=ax, color=line_color, linewidth=1.05,
                     estimator=None, sort=False, clip_on=False)
        ax.set_xlim(0, 250)
        ax.set_ylim(ylo, yhi)
        sns.despine(ax=ax, left=True, bottom=True)
        ax.set_yticks([])
        ax.set_xticks(xticks)
        last = i == len(channels) - 1
        ax.tick_params(axis="x", bottom=True, direction="out", length=2.2, width=0.8,
                       color="#222222", labelsize=6.2, pad=2.2, labelbottom=last)
        ax.set_xlabel("")
        ax.set_ylabel("")
        ax.annotate(name, xy=(0, 0), xycoords=("axes fraction", "data"),
                    xytext=(-41.3, 0), textcoords="offset pixels",
                    ha="left", va="center", fontsize=7.5)
        if last:
            ax.plot([1.0145, 1.0145], [ylo, ylo + scale_bar[p]], color="blue",
                    linewidth=2.2, solid_capstyle="butt", clip_on=False,
                    transform=ax.get_yaxis_transform())

fig.savefig("out.png", dpi=100)
plt.close(fig)
